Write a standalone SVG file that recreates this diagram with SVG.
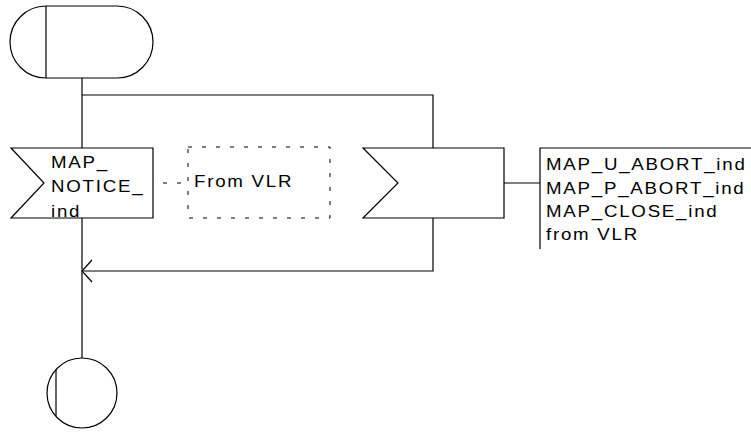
<svg xmlns="http://www.w3.org/2000/svg" width="751" height="432" viewBox="0 0 751 432">
<style>
.s{fill:none;stroke:#000;stroke-width:1.2}
.d{fill:none;stroke:#000;stroke-width:1;stroke-dasharray:4 10}
.t{font-family:"Liberation Sans",Arial,sans-serif;font-size:17px;letter-spacing:1.6px;fill:#000}
</style>
<rect width="751" height="432" fill="#fff"/>
<g id="connectors">
<path class="s" d="M82,78 V148"/>
<path class="s" d="M82,95 H433 V148"/>
<path class="s" d="M82,218 V358"/>
<path class="s" d="M433,218 V271 H82"/>
<path class="s" d="M92,260 L82,271 L92,282"/>
<path class="s" d="M504,183 H540"/>
<path class="d" d="M163,183 H188"/>
</g>
<g id="start">
<path class="s" d="M46,6 H117 A36,36 0 0 1 117,78 H46 A36,36 0 0 1 46,6 Z"/>
<path class="s" d="M46,6 V78"/>
</g>
<g id="in_notice">
<polygon class="s" points="11,148 153,148 153,218 11,218 44,183"/>
<text class="t" transform="translate(51,168) scale(1.1,1)">MAP_</text>
<text class="t" transform="translate(51,192) scale(1.1,1)">NOTICE_</text>
<text class="t" transform="translate(51,217) scale(1.1,1)">ind</text>
</g>
<g id="comment_vlr">
<rect class="d" x="188" y="147" width="142" height="71"/>
<text class="t" transform="translate(194,187) scale(1.1,1)">From VLR</text>
</g>
<g id="in_abort">
<polygon class="s" points="363,148 504,148 504,218 363,218 398,183"/>
</g>
<g id="text_abort">
<path class="s" d="M752,148 H540 V249"/>
<text class="t" transform="translate(546,170) scale(1.1,1)">MAP_U_ABORT_ind</text>
<text class="t" transform="translate(546,193.5) scale(1.1,1)">MAP_P_ABORT_ind</text>
<text class="t" transform="translate(546,217) scale(1.1,1)">MAP_CLOSE_ind</text>
<text class="t" transform="translate(546,240) scale(1.1,1)">from VLR</text>
</g>
<g id="end">
<circle class="s" cx="82" cy="393" r="35"/>
<path class="s" d="M56,369.6 V416.4"/>
</g>
</svg>
